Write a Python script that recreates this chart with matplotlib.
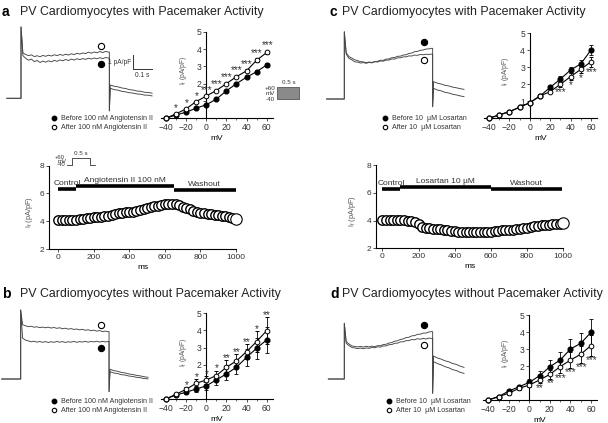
import numpy as np
import matplotlib
matplotlib.use("Agg")
import matplotlib.pyplot as plt
from matplotlib.lines import Line2D
from matplotlib.patches import Rectangle

plt.rcParams['font.family'] = ['Liberation Sans', 'DejaVu Sans']
plt.rcParams['text.color'] = '#333333'
plt.rcParams['xtick.color'] = '#333333'
plt.rcParams['ytick.color'] = '#333333'

# ---------------- data ----------------
mv = [-40, -30, -20, -10, 0, 10, 20, 30, 40, 50, 60]

# panel a: I-V with pacemaker activity, angiotensin II
a_before = [0, 0.19, 0.35, 0.58, 0.78, 1.10, 1.58, 2.00, 2.37, 2.69, 3.08]
a_before_err = [0, 0.04, 0.04, 0.04, 0.05, 0.05, 0.05, 0.06, 0.07, 0.08, 0.10]
a_after = [0, 0.25, 0.54, 0.96, 1.28, 1.60, 2.00, 2.40, 2.74, 3.35, 3.80]
a_after_err = [0, 0.04, 0.04, 0.05, 0.05, 0.05, 0.06, 0.06, 0.08, 0.12, 0.10]
a_stars = ['', '*', '*', '*', '***', '***', '***', '***', '***', '***', '***']

# panel b: I-V without pacemaker activity, angiotensin II
b_before = [0, 0.23, 0.39, 0.58, 0.76, 1.11, 1.46, 1.85, 2.43, 2.96, 3.45]
b_before_err = [0, 0.08, 0.12, 0.20, 0.25, 0.30, 0.35, 0.40, 0.50, 0.60, 0.75]
b_after = [0, 0.27, 0.56, 0.91, 1.11, 1.36, 1.85, 2.22, 2.76, 3.35, 3.99]
b_after_err = [0, 0.08, 0.15, 0.25, 0.25, 0.30, 0.40, 0.40, 0.45, 0.60, 0.80]
b_stars = ['', '', '*', '*', '*', '*', '**', '**', '**', '*', '**']

# panel c: I-V with pacemaker activity, losartan
c_before = [0, 0.20, 0.39, 0.65, 0.92, 1.31, 1.82, 2.31, 2.84, 3.20, 4.02]
c_before_err = [0, 0.04, 0.04, 0.05, 0.05, 0.08, 0.12, 0.15, 0.20, 0.20, 0.30]
c_after = [0, 0.20, 0.39, 0.65, 0.92, 1.31, 1.57, 2.00, 2.45, 2.88, 3.33]
c_after_err = [0, 0.04, 0.04, 0.05, 0.05, 0.08, 0.10, 0.15, 0.20, 0.20, 0.30]
c_stars = ['', '', '', '', '', '', '', '***', '*', '*', '***']

# panel d: I-V without pacemaker activity, losartan
d_before = [0, 0.20, 0.53, 0.78, 1.04, 1.43, 1.96, 2.35, 3.00, 3.33, 3.98]
d_before_err = [0, 0.05, 0.08, 0.10, 0.20, 0.30, 0.40, 0.45, 0.60, 0.63, 0.80]
d_after = [0, 0.20, 0.40, 0.69, 0.88, 1.18, 1.51, 1.96, 2.35, 2.69, 3.20]
d_after_err = [0, 0.05, 0.08, 0.08, 0.12, 0.20, 0.25, 0.40, 0.45, 0.50, 0.60]
d_stars = ['', '', '', '', '', '**', '**', '***', '***', '***', '***']

# time courses (ms, pA/pF)
tc_ms = list(range(0, 1001, 20))
a_tc = [4.10, 4.10, 4.09, 4.10, 4.11, 4.12, 4.15, 4.18, 4.22, 4.25,
        4.28, 4.31, 4.34, 4.37, 4.40, 4.42, 4.52, 4.56, 4.60, 4.64,
        4.67, 4.70, 4.74, 4.80, 4.86, 4.93, 5.00, 5.07, 5.13, 5.18,
        5.21, 5.22, 5.22, 5.21, 5.16, 5.06, 4.95, 4.85, 4.77, 4.69,
        4.62, 4.58, 4.54, 4.50, 4.46, 4.42, 4.39, 4.35, 4.30, 4.25, 4.18]
c_tc = [4.05, 4.05, 4.05, 4.05, 4.05, 4.04, 4.03, 4.00, 3.96, 3.88,
        3.74, 3.56, 3.47, 3.44, 3.42, 3.40, 3.38, 3.35, 3.33, 3.24,
        3.22, 3.21, 3.20, 3.20, 3.19, 3.18, 3.17, 3.16, 3.16, 3.16,
        3.18, 3.22, 3.26, 3.29, 3.31, 3.33, 3.35, 3.38, 3.40, 3.43,
        3.46, 3.52, 3.60, 3.64, 3.67, 3.69, 3.71, 3.72, 3.74, 3.77, 3.80]
a_bar_names = ['Control', 'Angiotensin II 100 nM', 'Washout']
a_bar_start = [0, 100, 650]
a_bar_end = [100, 650, 1000]
a_bar_level = [6.30, 6.55, 6.27]
c_bar_names = ['Control', 'Losartan 10 \u00b5M', 'Washout']
c_bar_start = [0, 98, 600]
c_bar_end = [98, 600, 995]
c_bar_level = [6.25, 6.44, 6.25]

# current traces: step part sampled every 15 ms, tail every 20 ms
step_ms = list(range(10, 461, 15))
a_up = [3.25, 3.12, 3.05, 3.10, 2.98, 3.04, 2.97, 3.06, 3.00, 3.08, 3.02, 3.11, 3.05, 3.13, 3.07, 3.15,
        3.09, 3.18, 3.12, 3.22, 3.16, 3.24, 3.19, 3.30, 3.22, 3.31, 3.25, 3.34, 3.27, 3.35, 3.30]
a_lo = [3.05, 2.85, 2.72, 2.80, 2.62, 2.70, 2.56, 2.66, 2.58, 2.68, 2.60, 2.71, 2.64, 2.74, 2.68, 2.77,
        2.70, 2.80, 2.73, 2.83, 2.76, 2.84, 2.78, 2.86, 2.80, 2.88, 2.82, 2.90, 2.84, 2.91, 2.88]
b_up = [3.88, 3.80, 3.74, 3.77, 3.70, 3.73, 3.67, 3.71, 3.66, 3.70, 3.64, 3.68, 3.62, 3.66, 3.59, 3.63,
        3.56, 3.60, 3.54, 3.57, 3.51, 3.55, 3.48, 3.52, 3.45, 3.49, 3.42, 3.46, 3.39, 3.42, 3.38]
b_lo = [2.92, 2.78, 2.72, 2.66, 2.70, 2.63, 2.68, 2.62, 2.67, 2.61, 2.66, 2.62, 2.68, 2.63, 2.67, 2.61,
        2.66, 2.63, 2.69, 2.62, 2.67, 2.64, 2.69, 2.63, 2.68, 2.65, 2.70, 2.64, 2.69, 2.65, 2.68]
c_up = [3.30, 3.02, 2.92, 2.80, 2.74, 2.67, 2.65, 2.60, 2.64, 2.61, 2.68, 2.69, 2.77, 2.76, 2.85, 2.86,
        2.95, 2.96, 3.05, 3.06, 3.14, 3.16, 3.25, 3.28, 3.38, 3.40, 3.48, 3.50, 3.57, 3.58, 3.62]
c_lo = [3.20, 2.90, 2.80, 2.65, 2.64, 2.57, 2.60, 2.55, 2.61, 2.58, 2.66, 2.64, 2.72, 2.70, 2.78, 2.78,
        2.86, 2.85, 2.94, 2.94, 3.01, 3.01, 3.08, 3.07, 3.14, 3.12, 3.18, 3.16, 3.20, 3.18, 3.21]
d_up = [2.67, 2.50, 2.36, 2.33, 2.29, 2.33, 2.28, 2.34, 2.29, 2.35, 2.31, 2.38, 2.38, 2.46, 2.48, 2.57,
        2.60, 2.70, 2.73, 2.83, 2.86, 2.96, 2.98, 3.08, 3.10, 3.19, 3.20, 3.28, 3.28, 3.36, 3.38]
d_lo = [2.55, 2.38, 2.25, 2.22, 2.17, 2.21, 2.16, 2.22, 2.19, 2.25, 2.23, 2.30, 2.28, 2.36, 2.36, 2.45,
        2.46, 2.55, 2.56, 2.65, 2.66, 2.74, 2.74, 2.82, 2.80, 2.88, 2.84, 2.90, 2.86, 2.92, 2.90]
a_tail_up = [0.95, 0.86, 0.82, 0.74, 0.70, 0.62, 0.59, 0.52, 0.50, 0.43, 0.42, 0.36]
a_tail_lo = [0.72, 0.62, 0.58, 0.50, 0.46, 0.40, 0.37, 0.31, 0.29, 0.23, 0.22, 0.17]
b_tail_up = [0.69, 0.60, 0.55, 0.47, 0.43, 0.36, 0.32, 0.26, 0.22, 0.16, 0.12]
b_tail_lo = [0.52, 0.43, 0.39, 0.31, 0.28, 0.21, 0.18, 0.12, 0.09, 0.03, 0.01]
c_tail_up = [1.24, 1.13, 1.07, 0.98, 0.93, 0.85, 0.80, 0.74, 0.69]
c_tail_lo = [0.76, 0.64, 0.58, 0.48, 0.43, 0.34, 0.29, 0.22, 0.17]
d_tail_up = [1.64, 1.50, 1.42, 1.30, 1.23, 1.11, 1.04, 0.92, 0.83]
d_tail_lo = [1.24, 1.10, 1.01, 0.88, 0.80, 0.67, 0.60, 0.48, 0.40]
spike = {'a': 5.1, 'b': 4.93, 'c': 4.8, 'd': 3.98}
drop = {'a': -0.9, 'b': -0.9, 'c': -0.55, 'd': -1.02}
pre_start = {'a': -75, 'b': -100, 'c': -93, 'd': -84}

# ---------------- figure ----------------
W, H = 608, 423
fig = plt.figure(figsize=(6.08, 4.23), dpi=100)


def px_axes(left, top, right, bottom, **kw):
    return fig.add_axes([left / W, 1 - bottom / H, (right - left) / W, (bottom - top) / H], **kw)


# overlay in pixel units for titles and small protocol sketches
ov = px_axes(0, 0, W, H, zorder=5)
ov.set_xlim(0, W)
ov.set_ylim(H, 0)
ov.axis('off')
ov.patch.set_alpha(0)

for letter, lx, tx, ty, title in [('a', 2, 20, 11.5, 'PV Cardiomyocytes with Pacemaker Activity'),
                                  ('b', 2, 20, 293.5, 'PV Cardiomyocytes without Pacemaker Activity'),
                                  ('c', 330, 341.5, 11.5, 'PV Cardiomyocytes with Pacemaker Activity'),
                                  ('d', 330, 341.5, 293.5, 'PV Cardiomyocytes without Pacemaker Activity')]:
    ov.text(lx, ty, letter, fontsize=10, fontweight='bold', va='center', color='k')
    ov.text(tx, ty, title, fontsize=8.95, va='center', color='#222222')


# ---------------- traces ----------------
PX_MS = 0.19
PX_PA = 14.0


def trace_panel(key, x0, y0, up, lo, tail_up, tail_lo, filled_top):
    ax = px_axes(x0 - 25, y0 - 80, x0 + 145, y0 + 18)
    ax.set_xlim(-25 / PX_MS, 145 / PX_MS)
    ax.set_ylim(-18 / PX_PA, 80 / PX_PA)
    ax.axis('off')
    tail_ms = [470 + 20 * i for i in range(len(tail_up))]
    for vals, tail in [(up, tail_up), (lo, tail_lo)]:
        t = [pre_start[key], 0, 0] + step_ms + [465, 465] + tail_ms
        y = [0, 0, spike[key]] + vals + [vals[-1], drop[key]] + tail
        ax.plot(t, y, color='#444444', lw=0.65)
    top = up[-1] + 0.45
    bot = lo[-1] - 0.45
    ax.plot([422], [top], 'o', ms=4.5, mfc='k' if filled_top else 'white', mec='k', mew=0.8)
    ax.plot([422], [bot], 'o', ms=4.5, mfc='white' if filled_top else 'k', mec='k', mew=0.8)
    return ax


ax_ta = trace_panel('a', 21, 98.3, a_up, a_lo, a_tail_up, a_tail_lo, False)
trace_panel('b', 20.7, 379, b_up, b_lo, b_tail_up, b_tail_lo, False)
trace_panel('c', 344.3, 99, c_up, c_lo, c_tail_up, c_tail_lo, True)
trace_panel('d', 344.3, 379, d_up, d_lo, d_tail_up, d_tail_lo, True)

# scale bar in a: 0.1 s and 1 pA/pF
ax_ta.plot([588, 588, 688], [3.09, 2.09, 2.09], color='#333333', lw=0.7)
ax_ta.text(580, 2.55, '1 pA/pF', fontsize=4.8, ha='right', va='center', zorder=6)
ax_ta.text(640, 1.85, '0.1 s', fontsize=4.8, ha='center', va='top')


# ---------------- legends ----------------
def legend(x, y, labels):
    handles = [Line2D([], [], ls='none', marker='o', ms=3.2, mfc='k', mec='k'),
               Line2D([], [], ls='none', marker='o', ms=3.2, mfc='white', mec='k', mew=0.8)]
    fig.legend(handles, labels, loc='upper left', bbox_to_anchor=(x / W, 1 - y / H),
               frameon=False, fontsize=5.1, handlelength=0.8, handletextpad=0.6,
               labelspacing=0.3, borderpad=0, borderaxespad=0)


legend(51, 115, ['Before 100 nM Angiotensin II', 'After 100 nM Angiotensin II'])
legend(51, 398, ['Before 100 nM Angiotensin II', 'After 100 nM Angiotensin II'])
legend(382, 115, ['Before 10  \u00b5M Losartan', 'After 10  \u00b5M Losartan'])
legend(386, 398, ['Before 10  \u00b5M Losartan', 'After 10  \u00b5M Losartan'])


# ---------------- I-V panels ----------------
def iv_panel(x_m40, x_60, y_0, y_5, before, b_err, after, a_err, stars, side, off, ylab_x, ytick_labels):
    p10 = (x_60 - x_m40) / 10.0
    left = x_m40 - 0.5 * p10
    right = x_m40 + 10.6 * p10
    ax = px_axes(left, y_5, right, y_0)
    ax.set_xlim(-45, 66)
    ax.set_ylim(0, 5)
    ax.patch.set_alpha(0)
    for s in ['top', 'right']:
        ax.spines[s].set_visible(False)
    ax.spines['left'].set_position(('data', 0))
    for s in ['left', 'bottom']:
        ax.spines[s].set_linewidth(0.8)
    ax.errorbar(mv, before, yerr=b_err, fmt='-o', color='k', ms=3.4, lw=0.8,
                elinewidth=0.6, capsize=1.5, capthick=0.6, clip_on=False, zorder=3)
    ax.errorbar(mv, after, yerr=a_err, fmt='-o', color='k', mfc='white', mec='k', mew=0.7,
                ms=3.4, lw=0.8, elinewidth=0.6, capsize=1.5, capthick=0.6, clip_on=False, zorder=4)
    for i, s in enumerate(stars):
        if s:
            yy = after[i] + side * (a_err[i] + off)
            ax.text(mv[i] + 0.5, yy, s, fontsize=7.2, ha='center', va='center')
    ax.set_xticks([-40, -20, 0, 20, 40, 60])
    ax.set_xticks([-30, -10, 10, 30, 50], minor=True)
    ax.set_yticks([1, 2, 3, 4, 5])
    ax.set_yticklabels(ytick_labels)
    ax.tick_params(labelsize=6.2, length=2, width=0.6, pad=1.5)
    ax.tick_params(which='minor', length=1.3, width=0.5)
    ax.set_xlabel('mV', fontsize=6, labelpad=2)
    ax.set_ylabel(r'$\mathregular{I_f}$ (pA/pF)', fontsize=4.9, color='#555555')
    ax.yaxis.set_label_coords((ylab_x - left) / (right - left), 0.55)
    return ax


iv_panel(165.7, 266.7, 118.3, 31.7, a_before, a_before_err, a_after, a_after_err,
         a_stars, 1, 0.3, 189, ['', '2', '3', '4', '5'])
iv_panel(165.7, 266.7, 399, 313.3, b_before, b_before_err, b_after, b_after_err,
         b_stars, 1, 0.12, 189, ['', '2', '3', '4', '5'])
iv_panel(489, 591, 118.3, 33.3, c_before, c_before_err, c_after, c_after_err,
         c_stars, -1, 0.3, 511, ['1', '2', '3', '4', '5'])
iv_panel(488.3, 591, 400, 315, d_before, d_before_err, d_after, d_after_err,
         d_stars, -1, 0.28, 511, ['', '2', '3', '4', '5'])

# voltage protocol sketch next to a
ov.add_patch(Rectangle((277, 87.5), 22, 11.5, facecolor='#8a8a8a', edgecolor='#555555', lw=0.6))
ov.text(275, 88, '+60', fontsize=4.5, ha='right', va='center')
ov.text(275, 93.5, 'mV', fontsize=4.5, ha='right', va='center')
ov.text(275, 99.5, '-40', fontsize=4.5, ha='right', va='center')
ov.text(289, 82.5, '0.5 s', fontsize=4.5, ha='center', va='center')


# ---------------- time courses ----------------
def time_course(left, top, right, bottom, xmin, vals, names, starts, ends, levels, ylab_x):
    ax = px_axes(left, top, right, bottom)
    ax.set_xlim(xmin, 1000)
    ax.set_ylim(2, 8)
    ax.patch.set_alpha(0)
    for s in ['top', 'right']:
        ax.spines[s].set_visible(False)
    for s in ['left', 'bottom']:
        ax.spines[s].set_linewidth(0.8)
    ax.plot(tc_ms[:-1], vals[:-1], 'o', ls='none', ms=6.8, mfc='white', mec='k', mew=1.0, clip_on=False)
    ax.plot(tc_ms[-1:], vals[-1:], 'o', ls='none', ms=8.2, mfc='white', mec='k', mew=0.8, clip_on=False)
    for n, s, e, lv in zip(names, starts, ends, levels):
        ax.plot([s, e], [lv, lv], color='k', lw=2.6, solid_capstyle='butt')
        ax.text((s + e) / 2, lv + 0.4, n, fontsize=6, ha='center', va='center')
    ax.set_xticks(range(0, 1001, 200))
    ax.set_yticks([2, 4, 6, 8])
    ax.tick_params(labelsize=6, length=2, width=0.6, pad=1.5)
    ax.set_xlabel('ms', fontsize=6, labelpad=2)
    ax.set_ylabel(r'$\mathregular{I_f}$ (pA/pF)', fontsize=5.3, color='#555555')
    ax.yaxis.set_label_coords((ylab_x - left) / (right - left), 0.45)
    return ax


time_course(49, 165.7, 236, 249, -52, a_tc, a_bar_names, a_bar_start, a_bar_end, a_bar_level, 35)
time_course(376, 165, 563.3, 248.3, -35, c_tc, c_bar_names, c_bar_start, c_bar_end, c_bar_level, 358)

# protocol sketch above time course a
ov.plot([66.7, 72.3, 72.3, 90, 90, 95], [164.7, 164.7, 158.3, 158.3, 164.7, 164.7], color='#333333', lw=0.6)
ov.text(65, 157.7, '+60', fontsize=4.3, ha='right', va='center')
ov.text(67, 161.2, 'mV', fontsize=4.3, ha='right', va='center')
ov.text(65, 164.9, '-40', fontsize=4.3, ha='right', va='center')
ov.text(81, 153.5, '0.5 s', fontsize=4.5, ha='center', va='center')

fig.savefig('out.png', dpi=100)
